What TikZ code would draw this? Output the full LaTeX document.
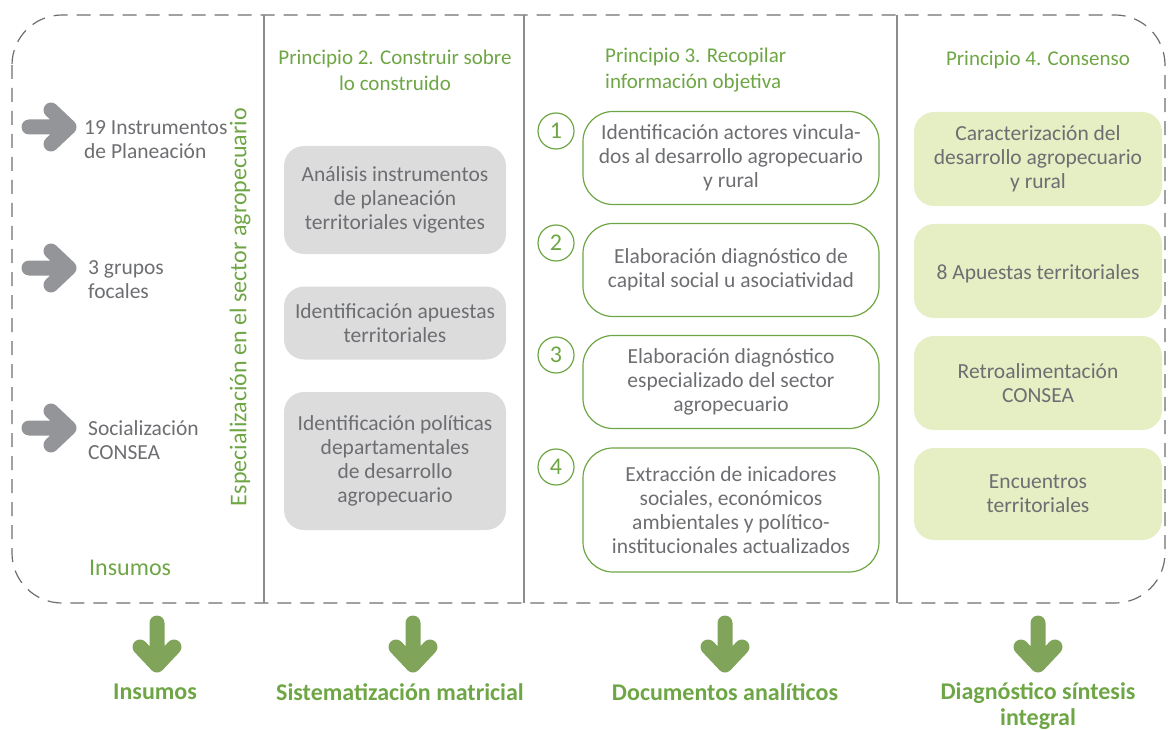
\documentclass[tikz,border=0pt]{standalone}
\usepackage{fontspec}
\setmainfont{Carlito}
\usetikzlibrary{positioning}

\definecolor{txtgray}{HTML}{6D6E71}
\definecolor{linegray}{HTML}{8C8C8E}
\definecolor{dashgray}{HTML}{6E6E70}
\definecolor{arrgray}{HTML}{939598}
\definecolor{titlegreen}{HTML}{6EA645}
\definecolor{arrgreen}{HTML}{80A55A}
\definecolor{boxgray}{HTML}{DCDCDD}
\definecolor{boxgreen}{HTML}{E6EEC4}

\newcommand\txtsize{\fontsize{21.5}{24}\selectfont}
\newcommand\titlesize{\fontsize{21}{26}\selectfont}
\newcommand\bigsize{\fontsize{24}{26}\selectfont}

\tikzset{
    plain/.style={text=txtgray, font=\txtsize, align=left, anchor=west, inner sep=0pt},
    title/.style={text=titlegreen, font=\titlesize},
    boxtext/.style={text=txtgray, font=\txtsize, align=center, execute at begin node={\rule{0pt}{20pt}}},
    graybox/.style={rectangle, rounded corners=20pt, fill=boxgray, boxtext, minimum width=222pt},
    whitebox/.style={rectangle, rounded corners=30pt, draw=titlegreen, line width=1.2pt, boxtext, minimum width=296pt},
    greenbox/.style={rectangle, rounded corners=20pt, fill=boxgreen, boxtext, minimum width=248pt},
    numcircle/.style={circle, draw=titlegreen, line width=1.2pt, text=titlegreen, font=\bigsize, minimum size=36pt, inner sep=0pt},
    result/.style={text=titlegreen, font=\bigsize\bfseries, align=center},
    fatarrow/.style={line width=15pt, line cap=round, line join=round}
}

\begin{document}
\begin{tikzpicture}[x=1pt, y=-1pt]
    \useasboundingbox (0,0) rectangle (1170,730);

    % frame and column rules
    \draw[dashgray, line width=1.2pt, dash pattern=on 14pt off 9pt, rounded corners=50pt] (12,15) rectangle (1165,603);
    \foreach \x in {264,524,897}
        \draw[linegray, line width=1.5pt] (\x,15) -- (\x,603);

    % insumos
    \node[plain] (i1) at (84,140) {19 Instrumentos\\de Planeación};
    \node[plain] (i2) at (88,280) {3 grupos\\focales};
    \node[plain] (i3) at (88,440) {Socialización\\CONSEA};
    \foreach \y in {127,268,428}
        \draw[arrgray, fatarrow] (29,\y) -- (69,\y) (51,\y-17) -- (69,\y) -- (51,\y+17);
    \node[text=titlegreen, font=\bigsize, anchor=west, inner sep=0pt] (ins) at (89,568) {Insumos};
    \node[text=titlegreen, font=\bigsize, rotate=90] (esp) at (240,307) {Especialización en el sector agropecuario};

    % principio 2
    \node[title, align=center] (t2) at (395,70) {Principio 2. Construir sobre\\lo construido};
    \node[graybox, minimum height=108pt] (a) at (395,200) {Análisis instrumentos\\de planeación\\territoriales vigentes};
    \node[graybox, minimum height=73pt] (b) at (395,323) {Identificación apuestas\\territoriales};
    \node[graybox, minimum height=138pt] (c) at (395,461) {Identificación políticas\\departamentales\\de desarrollo\\agropecuario};

    % principio 3
    \node[title, align=left, anchor=west, inner sep=0pt] (t3) at (605,70) {Principio 3. Recopilar\\información objetiva};
    \node[whitebox, minimum height=93pt] (d1) at (731,158) {Identificación actores vincula-\\dos al desarrollo agropecuario\\y rural};
    \node[whitebox, minimum height=93pt] (d2) at (731,270) {Elaboración diagnóstico de\\capital social u asociatividad};
    \node[whitebox, minimum height=93pt] (d3) at (731,382) {Elaboración diagnóstico\\especializado del sector\\agropecuario};
    \node[whitebox, minimum height=124pt] (d4) at (731,510) {Extracción de inicadores\\sociales, económicos\\ambientales y político-\\institucionales actualizados};
    \node[numcircle] (n1) at (556,131) {1};
    \node[numcircle] (n2) at (556,243) {2};
    \node[numcircle] (n3) at (556,355) {3};
    \node[numcircle] (n4) at (556,467) {4};

    % principio 4
    \node[title] (t4) at (1038,60) {Principio 4. Consenso};
    \node[greenbox, minimum height=94pt] (e1) at (1038,159) {Caracterización del\\desarrollo agropecuario\\y rural};
    \node[greenbox, minimum height=94pt] (e2) at (1038,271) {8 Apuestas territoriales};
    \node[greenbox, minimum height=94pt] (e3) at (1038,383) {Retroalimentación\\CONSEA};
    \node[greenbox, minimum height=92pt] (e4) at (1038,494) {Encuentros\\territoriales};

    % resultados
    \foreach \x in {157,413,725,1038}
        \draw[arrgreen, fatarrow] (\x,623) -- (\x,665) (\x-17,647) -- (\x,665) -- (\x+17,647);
    \node[result] (r1) at (155,692) {Insumos};
    \node[result] (r2) at (400,692) {Sistematización matricial};
    \node[result] (r3) at (725,692) {Documentos analíticos};
    \node[result, anchor=north] (r4) at (1038,679) {Diagnóstico síntesis\\integral};
\end{tikzpicture}
\end{document}
